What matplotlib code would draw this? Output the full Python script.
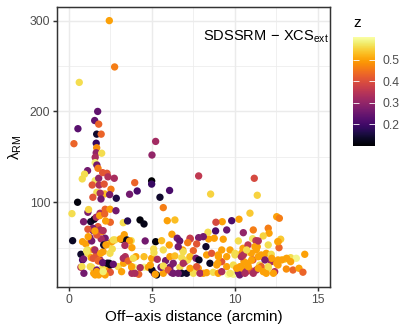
import matplotlib
matplotlib.use("Agg")
import matplotlib.pyplot as plt

# cluster offsets (arcmin), richness and redshift
x_off = [2.45, 2.77, 0.64, 1.75, 1.57, 1.81, 0.56, 1.69, 1.96, 0.32,
         1.66, 1.69, 1.66, 1.99, 5.24, 5.02, 1.60, 1.60, 1.70, 1.77,
         1.14, 0.96, 0.82, 1.60, 1.81, 2.05, 2.31, 2.37, 2.75, 3.98,
         5.00, 5.00, 4.13, 3.67, 2.55, 1.70, 2.17, 1.90, 1.46, 1.95,
         2.87, 2.47, 1.42, 1.84, 2.14, 5.50, 6.08, 7.83, 11.18, 11.36,
         8.55, 10.92, 12.53, 12.69, 10.26, 9.82, 9.25, 8.87, 8.85, 9.52,
         10.52, 11.12, 12.02, 12.07, 11.72, 11.08, 11.28, 12.59, 12.77, 12.67,
         8.43, 8.39, 8.11, 0.54, 0.20, 0.24, 1.16, 1.20, 0.90, 1.33,
         1.54, 1.66, 1.89, 2.20, 2.49, 2.85, 3.29, 3.55, 4.30, 4.54,
         5.70, 5.94, 6.40, 6.22, 6.54, 6.69, 7.33, 7.83, 5.24, 5.60,
         4.61, 3.77, 3.19, 3.35, 2.79, 2.63, 2.33, 2.01, 1.48, 1.28,
         0.84, 1.04, 0.74, 1.14, 0.84, 0.74, 1.39, 1.89, 1.69, 2.08,
         2.35, 2.35, 2.49, 2.99, 3.49, 3.80, 4.05, 3.95, 4.55, 4.80,
         4.54, 5.00, 5.14, 5.34, 5.16, 5.30, 5.70, 5.56, 5.84, 6.10,
         6.20, 6.70, 6.81, 7.01, 7.41, 7.81, 8.11, 6.87, 7.17, 7.51,
         7.31, 7.67, 1.87, 2.17, 2.51, 2.23, 1.77, 1.46, 1.16, 1.90,
         2.20, 1.96, 1.70, 2.11, 2.41, 2.61, 3.11, 3.51, 3.67, 3.81,
         5.12, 3.41, 3.31, 3.61, 4.31, 5.02, 5.22, 4.92, 3.81, 4.22,
         0.90, 0.80, 1.30, 1.16, 1.51, 1.70, 1.36, 1.81, 1.51, 1.70,
         2.01, 2.07, 2.31, 2.51, 2.51, 2.20, 1.81, 1.60, 7.31, 8.77,
         9.31, 10.22, 8.27, 7.71, 7.17, 6.90, 6.06, 6.60, 5.70, 6.10,
         6.40, 6.81, 7.85, 8.31, 8.61, 9.01, 9.72, 10.02, 10.42, 8.51,
         8.92, 9.22, 9.52, 9.92, 10.32, 10.56, 5.70, 6.30, 6.00, 6.30,
         6.60, 7.11, 7.51, 7.91, 8.31, 8.71, 9.01, 9.61, 9.92, 10.22,
         10.42, 7.31, 6.90, 7.71, 10.50, 10.80, 10.70, 11.00, 11.30, 11.36,
         11.60, 11.90, 12.20, 11.70, 12.61, 13.01, 13.37, 13.71, 14.22, 13.37,
         12.61, 13.11, 13.51, 13.87, 14.11, 12.41, 12.01, 12.20, 11.51, 11.10,
         10.80, 10.50, 10.70, 11.00, 11.30, 11.60, 11.90, 10.40, 10.30, 1.08,
         0.92, 1.48, 1.58, 1.93, 1.78, 2.05, 1.69, 2.08, 2.45, 2.69,
         3.19, 3.29, 3.59, 3.89, 3.80, 3.99, 2.25, 2.69, 3.39, 1.39,
         1.18, 1.58, 2.08, 9.22, 8.98, 9.22, 9.72, 10.12, 10.62, 10.82,
         11.12, 11.42, 11.72, 12.02, 12.33, 12.53, 12.83, 13.13, 12.23, 11.82,
         11.42, 11.02, 10.52, 10.02, 9.52, 9.02, 10.72, 11.22, 12.02, 12.62, 11.42]

lam_rm = [300, 249, 232, 200, 190, 186, 181, 175, 175, 164.5,
          165, 160, 154.5, 154, 167, 152, 149.5, 143.6, 141, 137.4,
          134.8, 131, 125.7, 123.8, 126.4, 132.6, 131.9, 128, 126.4, 121.6,
          123.5, 120, 112.4, 108.8, 114.3, 111, 109.2, 110, 105.5, 103.6,
          104.4, 108.4, 119, 119, 120, 105.5, 113, 129, 126.4, 107.7,
          109, 88, 84.1, 82.4, 81.3, 79.7, 78.6, 78, 68.4, 69.5,
          66.5, 69.5, 71.4, 65.9, 62.9, 59.9, 57.7, 56.6, 59.3, 50,
          59.6, 67, 62.1, 100, 87.5, 57.7, 89, 92, 78.6, 78.6,
          81.3, 83.5, 87.9, 92.3, 92.3, 90.7, 77.5, 79.4, 80.5, 76.1,
          94.1, 79.7, 80.5, 64.8, 60.4, 57.4, 59.6, 61, 56.6, 57.7,
          57.4, 57.7, 59.3, 64.3, 58.5, 48.6, 54.8, 67.6, 68.7, 61,
          56.6, 54.1, 42.7, 47.5, 36.5, 28.4, 28.4, 36.5, 43.1, 45.6,
          32.8, 28.4, 43.8, 29.1, 35.7, 28.4, 40.1, 28.4, 28.4, 28.4,
          40.1, 38.3, 44.5, 37.2, 21.8, 20, 21.8, 28.4, 35.7, 28.4,
          22.5, 28.4, 21.8, 34.6, 23.6, 27.3, 21.8, 47.5, 36.5, 46.7,
          40.1, 38.3, 85.2, 87.1, 78.0, 79.4, 73.1, 71.4, 70.3, 69.5,
          60.4, 59.6, 64, 53, 53.7, 56.6, 59.6, 58.5, 57.4, 50,
          48.6, 40.1, 32.8, 34.6, 28, 25.4, 20.7, 30.9, 21.8, 20.7,
          37.6, 29.1, 29.1, 43.8, 47.5, 42, 39, 35.4, 21.8, 25.4,
          22.9, 29.1, 32.8, 30.9, 22.9, 20, 20, 20, 60.4, 60.4,
          59.3, 57.4, 51.1, 54.1, 55.5, 45.6, 53, 51.1, 47.5, 40.1,
          40.9, 39, 36.5, 42, 43.8, 42, 47.5, 42, 43.8, 32.8,
          30.9, 34.6, 29.1, 30.9, 29.1, 34.6, 29.8, 32.8, 25.4, 21.8,
          21.8, 21.8, 21.8, 21.8, 22.5, 22.9, 21.8, 20.7, 20.7, 22.9,
          25.4, 27.3, 32.8, 29.1, 49.3, 53, 44.9, 43.8, 47.5, 51.1,
          42, 43.8, 42.7, 40.1, 36.5, 37.2, 39, 38.3, 42.7, 34.6,
          30.9, 26.5, 25.4, 27.3, 23, 23.6, 27.3, 34.6, 30.9, 36.5,
          32.8, 27.3, 23.6, 24.3, 25.4, 29.1, 21.8, 40.1, 20, 46.4,
          21.8, 38.3, 47.5, 43.8, 35.4, 33.5, 23.6, 23.6, 32.8, 31.7,
          23.6, 38.3, 35.4, 38.3, 29.1, 21.8, 53, 58.5, 52.5, 57.4,
          62.1, 68.4, 68.7, 47.5, 32.8, 23.6, 21.8, 27.3, 21.8, 29.1,
          21.8, 27.3, 23.6, 29.1, 21.8, 32.8, 36.5, 38.3, 38.3, 36.5,
          40.1, 36.5, 42.0, 43.8, 40.1, 40.1, 47.5, 51.1, 53.0, 56.6, 57.4]

z = [0.50, 0.46, 0.56, 0.24, 0.24, 0.43, 0.23, 0.14, 0.43, 0.43,
     0.19, 0.48, 0.30, 0.56, 0.32, 0.30, 0.33, 0.58, 0.26, 0.46,
     0.26, 0.56, 0.56, 0.57, 0.30, 0.41, 0.41, 0.34, 0.33, 0.43,
     0.10, 0.19, 0.21, 0.26, 0.46, 0.56, 0.53, 0.33, 0.41, 0.26,
     0.16, 0.27, 0.41, 0.33, 0.41, 0.14, 0.21, 0.36, 0.39, 0.55,
     0.55, 0.54, 0.50, 0.46, 0.50, 0.21, 0.50, 0.39, 0.21, 0.25,
     0.30, 0.46, 0.46, 0.50, 0.55, 0.57, 0.36, 0.53, 0.54, 0.43,
     0.50, 0.56, 0.26, 0.11, 0.56, 0.13, 0.27, 0.55, 0.27, 0.14,
     0.12, 0.33, 0.33, 0.43, 0.50, 0.26, 0.56, 0.17, 0.11, 0.12,
     0.46, 0.50, 0.53, 0.50, 0.26, 0.24, 0.41, 0.27, 0.11, 0.53,
     0.26, 0.56, 0.11, 0.50, 0.56, 0.56, 0.14, 0.50, 0.27, 0.27,
     0.50, 0.50, 0.14, 0.56, 0.21, 0.34, 0.56, 0.33, 0.41, 0.50,
     0.26, 0.48, 0.56, 0.56, 0.33, 0.50, 0.50, 0.59, 0.59, 0.50,
     0.53, 0.50, 0.56, 0.33, 0.26, 0.12, 0.50, 0.26, 0.26, 0.26,
     0.27, 0.56, 0.14, 0.33, 0.56, 0.50, 0.50, 0.50, 0.56, 0.43,
     0.53, 0.26, 0.50, 0.43, 0.43, 0.50, 0.41, 0.27, 0.41, 0.33,
     0.26, 0.33, 0.41, 0.14, 0.56, 0.50, 0.50, 0.12, 0.50, 0.50,
     0.56, 0.34, 0.50, 0.56, 0.33, 0.13, 0.50, 0.50, 0.33, 0.43,
     0.26, 0.56, 0.56, 0.56, 0.50, 0.41, 0.50, 0.50, 0.50, 0.26,
     0.56, 0.56, 0.14, 0.12, 0.41, 0.50, 0.50, 0.50, 0.37, 0.50,
     0.50, 0.56, 0.14, 0.41, 0.46, 0.56, 0.50, 0.26, 0.56, 0.50,
     0.53, 0.56, 0.13, 0.50, 0.41, 0.50, 0.50, 0.56, 0.50, 0.13,
     0.50, 0.41, 0.50, 0.56, 0.50, 0.50, 0.56, 0.27, 0.41, 0.26,
     0.26, 0.14, 0.56, 0.33, 0.50, 0.56, 0.50, 0.605, 0.59, 0.26,
     0.50, 0.50, 0.33, 0.41, 0.50, 0.36, 0.56, 0.50, 0.50, 0.50,
     0.50, 0.50, 0.56, 0.50, 0.50, 0.56, 0.56, 0.59, 0.50, 0.50,
     0.50, 0.48, 0.43, 0.50, 0.43, 0.34, 0.56, 0.33, 0.56, 0.41,
     0.50, 0.50, 0.33, 0.41, 0.33, 0.43, 0.50, 0.33, 0.26, 0.57,
     0.26, 0.41, 0.33, 0.50, 0.43, 0.24, 0.50, 0.58, 0.12, 0.24,
     0.50, 0.33, 0.43, 0.56, 0.50, 0.33, 0.50, 0.56, 0.33, 0.26,
     0.50, 0.50, 0.34, 0.50, 0.50, 0.33, 0.57, 0.50, 0.33, 0.50,
     0.33, 0.50, 0.50, 0.56, 0.50, 0.50, 0.50, 0.50, 0.50, 0.27,
     0.50, 0.50, 0.34, 0.56, 0.50, 0.50, 0.56, 0.50, 0.56, 0.50, 0.34]

x_ticks = [0, 5, 10, 15]
y_ticks = [100, 200, 300]
z_ticks = [0.2, 0.3, 0.4, 0.5]

plt.rcParams['font.family'] = ['Liberation Sans', 'DejaVu Sans']
plt.rcParams['mathtext.fontset'] = 'custom'
plt.rcParams['mathtext.rm'] = 'Liberation Sans'
plt.rcParams['mathtext.it'] = 'Liberation Sans:italic'

fig = plt.figure(figsize=(4.15, 3.32), dpi=100)
ax = fig.add_axes([57/415, 45/332, 273/415, 280/332])

sc = ax.scatter(x_off, lam_rm, c=z, cmap='inferno', s=28, linewidths=0,
                vmin=min(z), vmax=max(z), zorder=3)

ax.set_xlim(-0.7, 15.74)
ax.set_ylim(6.7, 315)
ax.set_xticks(x_ticks)
ax.set_yticks(y_ticks)
ax.set_xticks([2.5, 7.5, 12.5], minor=True)
ax.set_yticks([50, 150, 250], minor=True)
ax.grid(which='major', color='#EBEBEB', linewidth=1.07)
ax.grid(which='minor', color='#EBEBEB', linewidth=0.53)
ax.set_axisbelow(True)
ax.tick_params(which='major', length=2.75, width=1.07, color='#333333',
               labelsize=8.8, labelcolor='#4D4D4D', pad=2.2)
ax.tick_params(which='minor', length=0)
for sp in ax.spines.values():
    sp.set_color('#333333')
    sp.set_linewidth(1.07)

ax.set_xlabel('Off\u2212axis distance (arcmin)', fontsize=11, labelpad=2.75)
ax.set_ylabel(r'$\mathrm{\lambda}_{\mathrm{RM}}$', fontsize=11, labelpad=4)

ax.text(8.09, 282, r'SDSSRM$\,-\,$XCS$_{\mathrm{ext}}$', fontsize=10.5,
        ha='left', va='center')

# colour bar like ggplot's guide
cax = fig.add_axes([353/415, 1 - 146/332, 22/415, 109/332])
cb = fig.colorbar(sc, cax=cax, ticks=z_ticks)
cb.outline.set_visible(False)
cax.minorticks_off()
cax.tick_params(axis='y', direction='in', color='white', length=4.4, width=0.6,
                left=True, right=True, labelleft=False, labelright=True,
                labelsize=8.8, labelcolor='#4D4D4D', pad=5.5)
cax.set_yticklabels(['0.2', '0.3', '0.4', '0.5'])
fig.text(353/415, 1 - 23/332, 'z', fontsize=11, ha='left', va='center')

fig.savefig('out.png', dpi=100)
